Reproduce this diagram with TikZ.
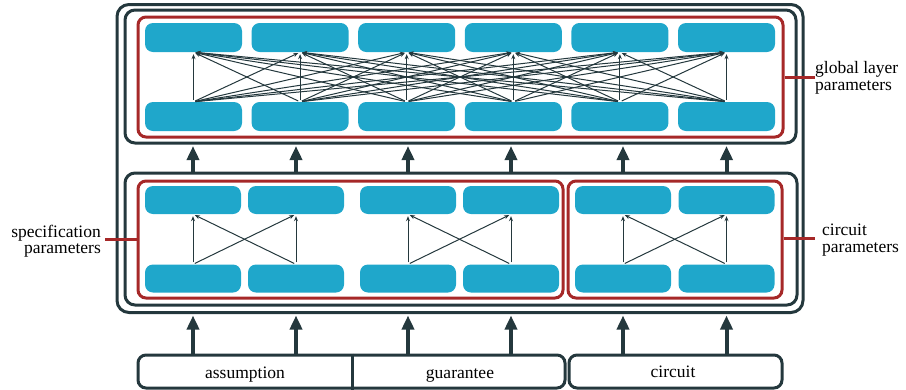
\documentclass[tikz,border=0pt]{standalone}
\usepackage{fontspec}
\setmainfont{Liberation Serif}
\newfontfamily\timesfont{Liberation Serif}
\usetikzlibrary{arrows.meta}
\definecolor{dk}{RGB}{36,56,61}
\definecolor{bl}{RGB}{31,167,203}
\definecolor{rd}{RGB}{166,40,40}
\begin{document}
\begin{tikzpicture}[x=1pt,y=-1pt,
  unitbox/.style={fill=bl, rounded corners=8pt, minimum width=97pt, minimum height=29pt, inner sep=0pt},
  lunitbox/.style={fill=bl, rounded corners=8pt, minimum width=96pt, minimum height=28pt, inner sep=0pt},
  outerbox/.style={draw=dk, line width=3pt, rounded corners=12pt, inner sep=0pt},
  contbox/.style={draw=dk, line width=3pt, rounded corners=10pt, inner sep=0pt},
  grpbox/.style={draw=rd, line width=3pt, rounded corners=8pt, inner sep=0pt},
  mesharrow/.style={draw=dk, line width=1pt, -{Stealth[length=5pt,width=4pt]}, shorten <=2pt, shorten >=2pt},
  flowarrow/.style={draw=dk, line width=4pt, -{Triangle[length=14pt,width=12pt]}},
  lbltext/.style={font=\timesfont\fontsize{17.5}{16.5}\selectfont, inner sep=0pt},
  tagline/.style={draw=rd, line width=3pt},
  inbox/.style={draw=dk, line width=3pt, rounded corners=8pt, inner sep=0pt, minimum height=33pt}
]
\useasboundingbox (0,0) rectangle (906,389);

% outer box
\node[outerbox, minimum width=686pt, minimum height=308pt] (outer) at (460,158.5) {};

% upper section
\node[contbox, minimum width=671pt, minimum height=133pt] (upc) at (460.5,76.5) {};
\node[grpbox, minimum width=645pt, minimum height=120pt] (upr) at (460.5,77) {};
\foreach \i in {1,...,6} {
  \pgfmathsetmacro\cx{193.5+106.6*(\i-1)}
  \node[unitbox] (t\i) at (\cx,37.5) {};
  \node[unitbox] (b\i) at (\cx,116.5) {};
}
\foreach \i in {1,...,6} {
  \foreach \j in {1,...,6} {
    \draw[mesharrow] (b\i.north) -- (t\j.south);
  }
}

% lower section
\node[contbox, minimum width=672pt, minimum height=132pt] (lowc) at (461,239) {};
\node[grpbox, minimum width=425pt, minimum height=117pt] (specr) at (350.5,239.5) {};
\node[grpbox, minimum width=214pt, minimum height=117pt] (circr) at (675,239.5) {};
\foreach \i/\cx in {1/193,2/296,3/408,4/511,5/623,6/726.5} {
  \node[lunitbox] (lt\i) at (\cx,200) {};
  \node[lunitbox] (lb\i) at (\cx,278.5) {};
}
\foreach \a/\b in {1/2,3/4,5/6} {
  \draw[mesharrow] (lb\a.north) -- (lt\a.south);
  \draw[mesharrow] (lb\a.north) -- (lt\b.south);
  \draw[mesharrow] (lb\b.north) -- (lt\b.south);
  \draw[mesharrow] (lb\b.north) -- (lt\a.south);
}

% arrows between sections
\foreach \i in {1,...,6} {
  \draw[flowarrow, shorten >=1.5pt] (lt\i |- lowc.north) -- (lt\i |- upc.south);
}

% inputs
\node[inbox, minimum width=427pt] (specin) at (351.5,371.5) {};
\node[inbox, minimum width=213pt] (circin) at (675.5,371.5) {};
\coordinate (dv) at (352,371.5);
\draw[draw=dk, line width=3pt] (dv |- specin.north) -- (dv |- specin.south);
\node[lbltext, anchor=base] (asm) at (245,378) {assumption};
\node[lbltext, anchor=base] (gua) at (460,378) {guarantee};
\node[lbltext, anchor=base] (cin) at (673,377) {circuit};
\foreach \i in {1,2} {
  \draw[flowarrow, shorten >=1.5pt] (lt\i |- specin.north) -- (lt\i |- outer.south);
}
\foreach \i in {3,4} {
  \draw[flowarrow, shorten >=1.5pt] (lt\i |- specin.north) -- (lt\i |- outer.south);
}
\foreach \i in {5,6} {
  \draw[flowarrow, shorten >=1.5pt] (lt\i |- circin.north) -- (lt\i |- outer.south);
}

% labels
\node[lbltext, align=left, anchor=west] (glbl) at (815,78) {global layer\\parameters};
\draw[tagline] (upr.east) -- (glbl.west |- upr.east);
\node[lbltext, align=right, anchor=east] (slbl) at (101,241) {specification\\parameters};
\coordinate (sl) at (105,239);
\draw[tagline] (sl) -- (sl -| specr.west);
\node[lbltext, align=left, anchor=west] (clbl) at (822,240) {circuit\\parameters};
\coordinate (cl) at (815,238);
\draw[tagline] (cl -| circr.east) -- (cl);
\end{tikzpicture}
\end{document}
